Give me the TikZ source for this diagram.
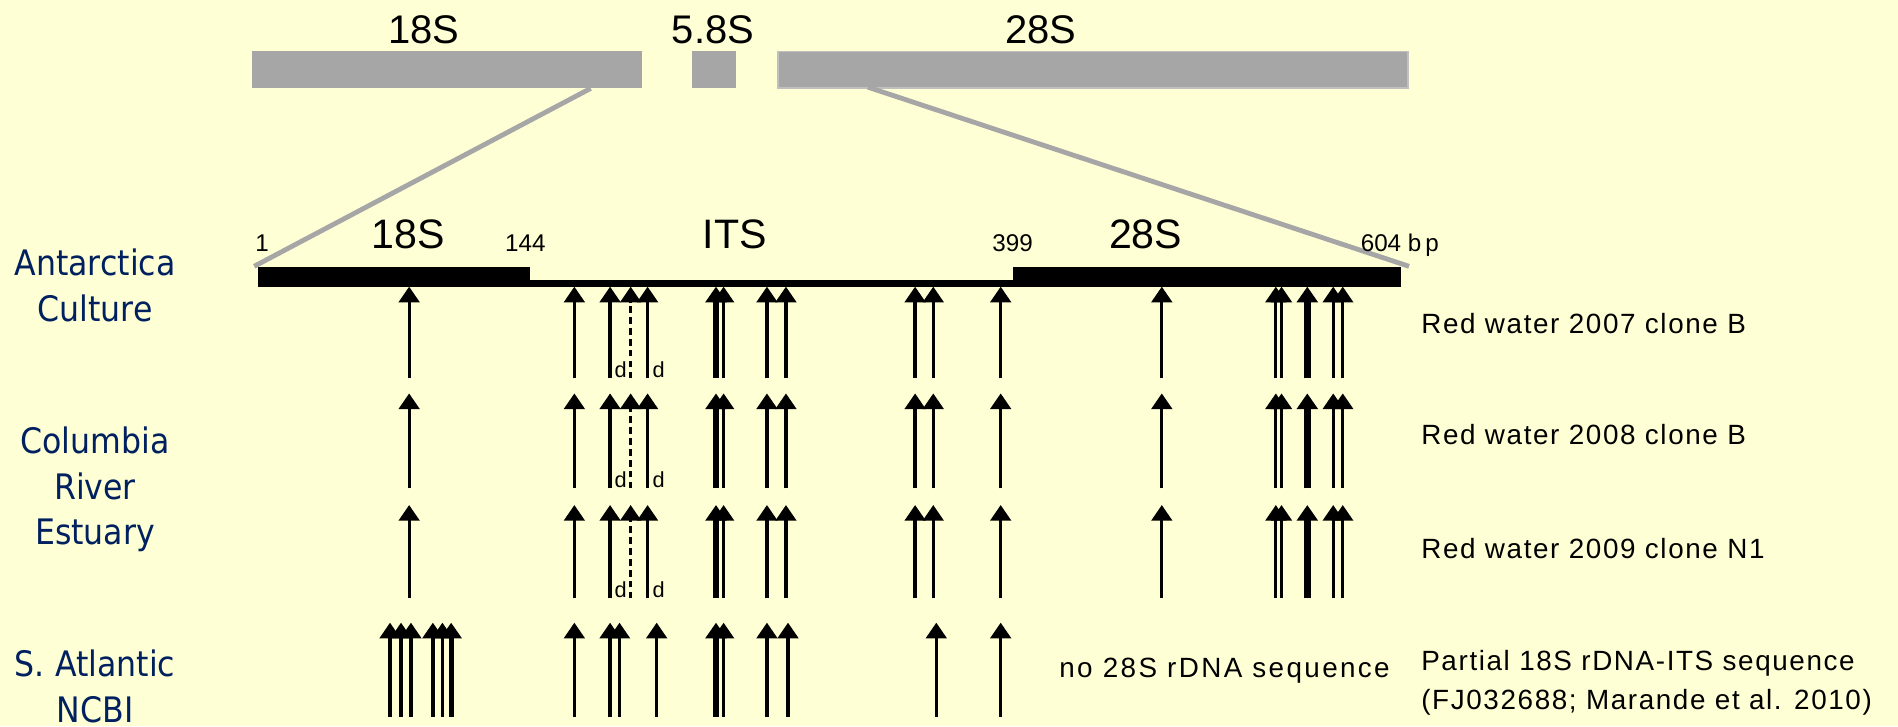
\documentclass[tikz,border=0pt]{standalone}
\usepackage{fontspec}
\setmainfont{Liberation Sans}
\newfontfamily\labfont[FakeStretch=0.9]{DejaVu Sans}
\usetikzlibrary{arrows.meta}
\definecolor{bgc}{RGB}{255,255,213}
\definecolor{barg}{RGB}{166,166,166}
\definecolor{barl}{RGB}{192,192,192}
\definecolor{navy}{RGB}{0,32,96}
\newcommand\mutrow[3]{% #1 tail y, #2 tip y, #3 row id
  \foreach \x in {338,474.5,504,535,597.8,633.6,649.3,756,771,826.7,959.8,1054,1058.7,1101.4,1109.3}
    \draw[arr] (\x,#1) -- (\x,#2);
  \draw[arr,thk] (591.5,#1) -- (591.5,#2);
  \draw[arr,thkk] (1080,#1) -- (1080,#2);
  \draw[arr,dsh] (521,#1) -- (521,#2);
  \node[dlab] (d#3a) at (507.5,#1-1) {d};
  \node[dlab] (d#3b) at (539,#1-1) {d};
}
\begin{document}
\begin{tikzpicture}[x=1pt,y=-1pt,
  arr/.style={line width=2.7pt,-{Triangle[width=17pt,length=13pt]}},
  thk/.style={line width=4.2pt},
  thkk/.style={line width=5.8pt},
  dsh/.style={dash pattern=on 5.5pt off 3.5pt},
  txt/.style={inner sep=0pt,anchor=base},
  big/.style={txt,font=\fontsize{33}{40}\selectfont},
  mid/.style={txt,font=\fontsize{34}{40}\selectfont},
  num/.style={txt,font=\fontsize{20}{24}\selectfont},
  dlab/.style={inner sep=0pt,anchor=base west,font=\fontsize{18}{20}\selectfont},
  side/.style={inner sep=0pt,anchor=base west,font=\fontsize{23}{28}\selectfont\addfontfeatures{LetterSpace=5.8}},
  loc/.style={inner sep=0pt,anchor=base,text=navy,font=\fontsize{29}{34}\labfont},
  zoomline/.style={draw=barg,line width=4pt}]
\clip (0,0) rectangle (1568,600);
\fill[bgc] (0,0) rectangle (1568,600);
% top rDNA bars
\fill[barg] (208,42) rectangle (530,73);
\fill[barg] (572,42) rectangle (608,73);
\filldraw[fill=barg,draw=barl,line width=1.5pt] (642.5,42.5) rectangle (1163,72.5);
\node[big] (t18) at (350,35.8) {18S};
\node[big] (t58) at (589,35.8) {5.8S};
\node[big] (t28) at (860,35.8) {28S};
% zoom lines
\coordinate (za) at (488,73);
\coordinate (zb) at (210,220);
\coordinate (zc) at (717,72);
\coordinate (zd) at (1164,220);
\draw[zoomline] (za) -- (zb);
\draw[zoomline] (zc) -- (zd);
% sequence bar
\fill[black] (213.5,220.3) rectangle (438,236.8);
\fill[black] (438,231.3) rectangle (837,236.8);
\fill[black] (837,220.3) rectangle (1157.7,236.8);
\node[mid] (m18) at (337,205) {18S};
\node[mid] (mits) at (607,205) {ITS};
\node[mid] (m28) at (946.5,205) {28S};
\node[num] (n1) at (216.5,208) {1};
\node[num] (n144) at (434,208) {144};
\node[num] (n399) at (836.5,208) {399};
\node[num,anchor=base west] (n604) at (1124,208) {604 b\,p};
% rows 1-3
\mutrow{312.5}{236.8}{1}
\mutrow{403.4}{325}{2}
\mutrow{494.3}{417.2}{3}
% row 4
\foreach \x in {322.2,331.3,339.5,357.6,365.5,474.5,504,511.8,542.5,597.8,633.6,651,773.5,826.7}
  \draw[arr] (\x,592) -- (\x,514.4);
\foreach \x in {372.7,591.5}
  \draw[arr,thk] (\x,592) -- (\x,514.4);
% side texts
\node[side] (r07) at (1174,275.4) {Red water 2007 clone B};
\node[side] (r08) at (1174,367.6) {Red water 2008 clone B};
\node[side] (r09) at (1174,461.2) {Red water 2009 clone N1};
\node[side] (p18) at (1174,553.5) {Partial 18S rDNA-ITS sequence};
\node[side] (fj) at (1174,586.5) {(FJ032688; Marande et al. 2010)};
\node[side,font=\fontsize{23}{28}\selectfont\addfontfeatures{LetterSpace=8.5}] (no28) at (875,560) {no 28S rDNA sequence};
% location labels
\node[loc] (l1a) at (78.5,228) {Antarctica};
\node[loc] (l1b) at (78.5,266) {Culture};
\node[loc] (l2a) at (78.5,374.5) {Columbia};
\node[loc] (l2b) at (78.5,413) {River};
\node[loc] (l2c) at (78.5,450) {Estuary};
\node[loc] (l3a) at (78.5,559) {S. Atlantic};
\node[loc] (l3b) at (78.5,597) {NCBI};
\end{tikzpicture}
\end{document}
